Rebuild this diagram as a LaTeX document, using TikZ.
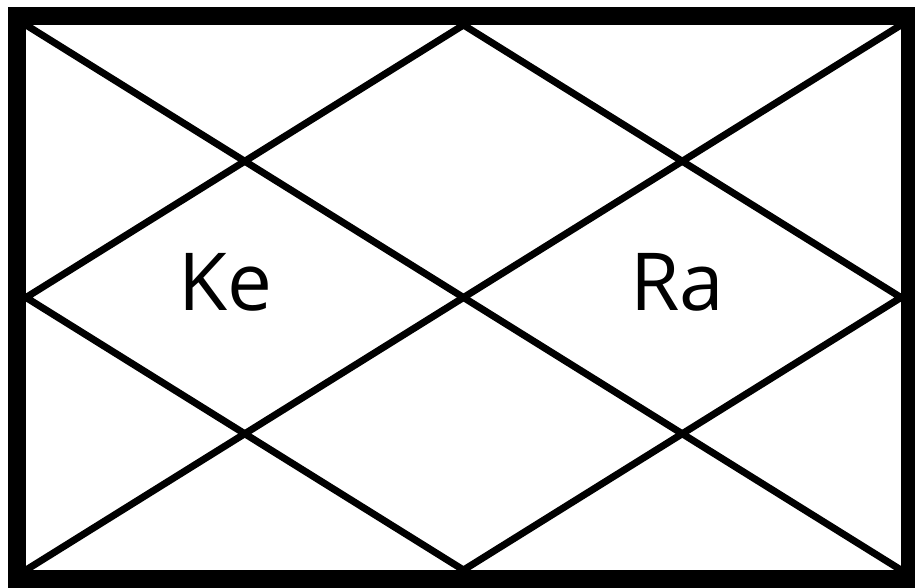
\documentclass[tikz,border=0pt]{standalone}
\usepackage{fontspec}
\setmainfont{Open Sans}
\begin{document}
\begin{tikzpicture}[x=1pt,y=-1pt,
  inner/.style={line width=7pt,line cap=butt},
  frame/.style={line width=18pt,line join=miter},
  lbl/.style={font=\fontsize{80}{80}\selectfont,inner sep=0pt}]
\useasboundingbox (0,0) rectangle (915,587);
\fill[white] (0,0) rectangle (915,587);
\coordinate (A) at (26,25);
\coordinate (B) at (901,25);
\coordinate (C) at (901,570);
\coordinate (D) at (26,570);
\coordinate (T) at (463.5,25);
\coordinate (R) at (901,297.5);
\coordinate (M) at (463.5,570);
\coordinate (L) at (26,297.5);
\draw[inner] (A) -- (C);
\draw[inner] (B) -- (D);
\draw[inner] (T) -- (R) -- (M) -- (L) -- cycle;
\draw[frame] (17,16) rectangle (910,579);
\node[lbl] (ke) at (225,282) {Ke};
\node[lbl] (ra) at (677,282) {Ra};
\end{tikzpicture}
\end{document}
